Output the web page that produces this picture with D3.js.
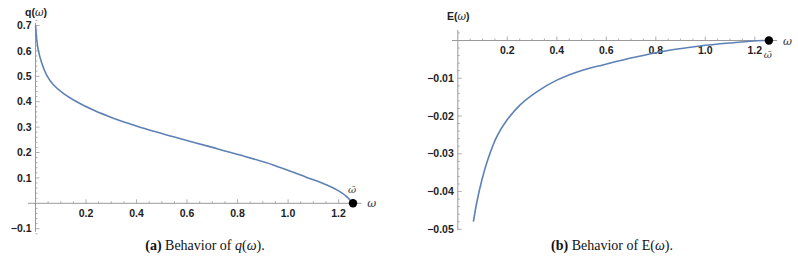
<!DOCTYPE html>
<html><head><meta charset="utf-8">
<script src="https://cdn.jsdelivr.net/npm/d3@7"></script>
<style>body{margin:0;background:#fff}svg{display:block}</style>
</head><body>
<svg id="c" width="798" height="264"></svg>
<script>
// ---- data ----
const omegaBar = 1.257;
const qOmega = [0.0005,0.005,0.011,0.025,0.044,0.07,0.11,0.163,0.229,0.308,0.387,0.414,0.546,0.678,0.81,0.941,1.074,1.153,1.205,1.232,1.257];
const qValues = [0.70,0.643,0.603,0.551,0.505,0.468,0.433,0.40,0.367,0.335,0.308,0.299,0.262,0.226,0.19,0.151,0.102,0.072,0.046,0.026,0.0];
const eOmega = [0.063,0.076,0.097,0.123,0.157,0.198,0.251,0.319,0.40,0.507,0.59,0.709,0.844,0.979,1.113,1.208,1.257];
const eValues = [-0.048,-0.0431,-0.037,-0.0312,-0.0255,-0.0211,-0.0171,-0.0136,-0.0105,-0.0078,-0.0064,-0.0045,-0.0027,-0.00146,-0.00058,-0.00005,0];
const xTicks = [0.2,0.4,0.6,0.8,1.0,1.2];
const qTicks = [0.1,0.2,0.3,0.4,0.5,0.6,0.7,-0.1];
const eTicks = [-0.01,-0.02,-0.03,-0.04,-0.05];

const svg = d3.select('#c');
const axisCol = '#9a9a9a', lineCol = '#5E81B5';
const sans = '"Liberation Sans", Arial, sans-serif';
const serif = '"Liberation Serif", "Times New Roman", serif';

function panel(opts){
  const g = svg.append('g');
  const x = d3.scaleLinear().domain([0,1.2]).range(opts.xr);
  const y = d3.scaleLinear().domain(opts.yd).range(opts.yr);
  const x0 = x(0), y0 = y(0);
  g.append('line').attr('x1',opts.xAxisStart).attr('x2',x(opts.xMax)).attr('y1',y0).attr('y2',y0)
    .attr('stroke',axisCol).attr('stroke-width',1);
  g.append('line').attr('x1',x0).attr('x2',x0).attr('y1',y(opts.yTop)).attr('y2',y(opts.yBot))
    .attr('stroke',axisCol).attr('stroke-width',1);
  const xt = d3.range(0.05, opts.xMax, 0.05);
  xt.forEach(v=>{
    const major = Math.abs(v/0.2 - Math.round(v/0.2))<1e-6;
    g.append('line').attr('x1',x(v)).attr('x2',x(v)).attr('y1',y0).attr('y2',y0-(major?4:2))
      .attr('stroke',axisCol).attr('stroke-width',0.8);
  });
  xTicks.forEach(v=>{
    g.append('text').attr('x',x(v)).attr('y',y0+opts.xLabelDy).attr('text-anchor','middle')
      .attr('font-family',sans).attr('font-weight','bold').attr('font-size',10.5).attr('fill','#222').text(d3.format('.1f')(v));
  });
  const ys = d3.range(Math.round(opts.yBot/opts.yMinor), Math.round(opts.yTop/opts.yMinor)+1).map(k=>k*opts.yMinor);
  ys.forEach(v=>{
    if (Math.abs(v)<1e-12) return;
    const r = v/opts.yMajor, major = Math.abs(r-Math.round(r))<1e-6;
    g.append('line').attr('x1',x0).attr('x2',x0+(major?4:2)).attr('y1',y(v)).attr('y2',y(v))
      .attr('stroke',axisCol).attr('stroke-width',0.8);
  });
  opts.yTicks.forEach(v=>{
    g.append('text').attr('x',x0-4).attr('y',y(v)+3.7).attr('text-anchor','end')
      .attr('font-family',sans).attr('font-weight','bold').attr('font-size',10.5).attr('fill','#222')
      .text(d3.format(opts.yFmt)(v).replace('-','\u2212'));
  });
  const line = d3.line().x(d=>x(d[0])).y(d=>y(d[1])).curve(d3.curveCatmullRom.alpha(0.5));
  g.append('path').datum(opts.xs.map((d,i)=>[d,opts.vs[i]])).attr('d',line)
    .attr('fill','none').attr('stroke',lineCol).attr('stroke-width',1.6);
  g.append('circle').attr('cx',x(omegaBar)).attr('cy',y0).attr('r',4.2).attr('fill','#000');
  g.append('text').attr('x',x(omegaBar)-1).attr('y',y0+opts.obDy).attr('text-anchor','middle')
    .attr('font-family','"DejaVu Serif", serif').attr('font-style','italic').attr('font-size',10)
    .attr('fill','#333').text('\u03C9\u0304');
  g.append('text').attr('x',x(opts.xMax)+6).attr('y',y0+4)
    .attr('font-family','"DejaVu Serif", serif').attr('font-style','italic').attr('font-size',11)
    .attr('fill','#333').text('\u03C9');
  const yl = g.append('text').attr('x',opts.ylx).attr('y',opts.yly).attr('fill','#222')
    .attr('font-family',sans).attr('font-weight','bold').attr('font-size',10.5);
  yl.append('tspan').text(opts.yName+'(');
  yl.append('tspan').attr('font-family','"DejaVu Serif", serif').attr('font-style','italic').attr('font-weight','normal').text('\u03C9');
  yl.append('tspan').text(')');
  const cap = svg.append('text').attr('x',opts.capX).attr('y',250).attr('text-anchor','middle')
    .attr('font-family',serif).attr('font-size',14).attr('fill','#111');
  cap.append('tspan').attr('font-weight','bold').text(opts.capTag);
  cap.append('tspan').text(' Behavior of ');
  opts.capFn(cap);
  cap.append('tspan').text('.');
}

panel({xr:[35.5,338.6], yd:[0,0.7], yr:[203.3,25.5], xMax:1.29, xAxisStart:28,
  yTop:0.71, yBot:-0.112, yMinor:0.02, yMajor:0.1, yTicks:qTicks, yFmt:'.1f',
  xLabelDy:14, xs:qOmega, vs:qValues, obDy:-10, ylx:25, yly:16, yName:'q',
  capX:205, capTag:'(a)', capFn:cap=>{cap.append('tspan').attr('font-style','italic').text('q');cap.append('tspan').text('(');cap.append('tspan').attr('font-style','italic').text('\u03C9');cap.append('tspan').text(')');}
});
panel({xr:[457.8,754.8], yd:[0,-0.05], yr:[40.5,229.3], xMax:1.29, xAxisStart:452,
  yTop:0.0028, yBot:-0.0502, yMinor:0.002, yMajor:0.01, yTicks:eTicks, yFmt:'.2f',
  xLabelDy:13, xs:eOmega, vs:eValues, obDy:17, ylx:447, yly:20, yName:'E',
  capX:612, capTag:'(b)', capFn:cap=>{cap.append('tspan').text('E(');cap.append('tspan').attr('font-style','italic').text('\u03C9');cap.append('tspan').text(')');}
});
</script>
</body></html>
